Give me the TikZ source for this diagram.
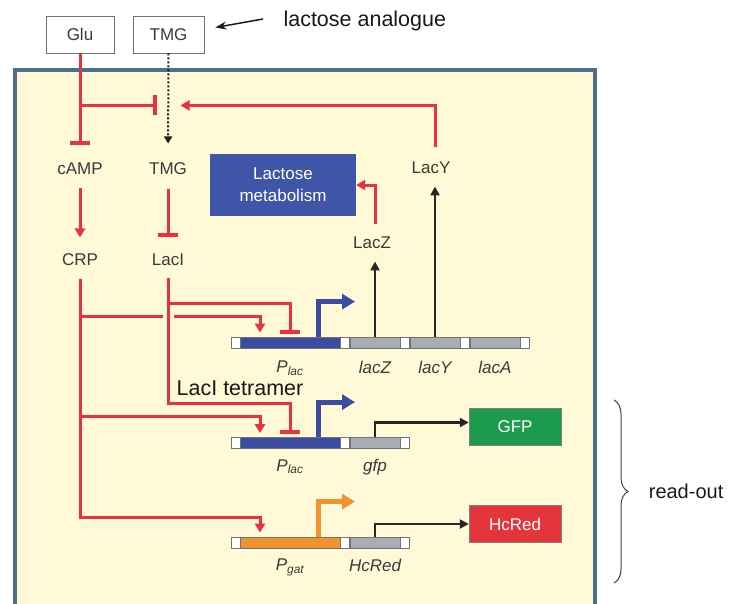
\documentclass[tikz,border=0pt]{standalone}
\usepackage{fontspec}
\setmainfont{Liberation Sans}
\usetikzlibrary{arrows.meta, positioning, calc, decorations.pathreplacing}

\definecolor{cellbg}{HTML}{FFF9D7}
\definecolor{cellrim}{HTML}{4D6F8D}
\definecolor{sigred}{HTML}{E8323C}
\definecolor{plblue}{HTML}{3B4CA2}
\definecolor{metblue}{HTML}{3F56A8}
\definecolor{gatorange}{HTML}{EF9431}
\definecolor{genegrey}{HTML}{A8ADB3}
\definecolor{gfpgreen}{HTML}{1B9B4B}
\definecolor{hcred}{HTML}{E3353B}
\definecolor{txtgrey}{HTML}{3A3A3A}

\begin{document}
\begin{tikzpicture}[x=1pt,y=-1pt,
    font=\fontsize{17}{20}\selectfont,
    every node/.style={text=txtgrey},
    redline/.style={draw=sigred,line width=3pt},
    act/.style={redline,-{Triangle[width=10pt,length=9pt]}},
    rep/.style={redline,-{Bar[width=20pt,line width=4pt]}},
    expr/.style={draw=black!85,line width=2.5pt,-{Triangle[width=9pt,length=9pt]}},
    prom/.style={line width=5pt,-{Triangle[width=15pt,length=13pt]}},
    seg/.style={draw=black!55,line width=0.8pt,minimum height=11pt,inner sep=0pt},
    gap/.style={seg,fill=white,minimum width=9pt},
    gene/.style={seg,fill=genegrey,minimum width=50pt},
    pbox/.style={seg,minimum width=100pt},
    lbl/.style={font=\fontsize{17}{20}\selectfont\itshape},
    inbox/.style={draw=black!55,line width=0.8pt,fill=white,minimum height=37pt}
  ]
  \useasboundingbox (0,0) rectangle (731,603);
  \clip (0,0) rectangle (731,603);

  % cell
  \draw [fill=cellbg,draw=cellrim,line width=4pt] (15,70) rectangle (595,625);

  \node [inbox,minimum width=68pt] at (80,34.5) (glu) {Glu};
  \node [inbox,minimum width=71pt] at (168.5,34.5) (tmgout) {TMG};
  \node [anchor=west,text=black!90,font=\fontsize{21.5}{24}\selectfont] at (280,21) (analog) {lactose analogue};
  \draw [black!90,line width=1.5pt,-{Stealth[length=11pt,width=8pt]}] ($(analog.west)+(-17,-2)$) -- ($(tmgout.east)+(11,-7)$);

  \node at (80,169) (camp) {cAMP};
  \node at (168,169) (tmg) {TMG};
  \node at (80,260) (crp) {CRP};
  \node at (168,260) (laci) {LacI};
  \node [fill=metblue,text=white,minimum width=146pt,minimum height=62pt,align=center,
         font=\fontsize{17}{22}\selectfont] at (283,185) (lacmet) {Lactose\\metabolism};
  \node at (431,168) (lacYp) {LacY};
  \node at (372,243) (lacZp) {LacZ};

  % lac operon
  \node [gap] at (235.5,342.5) (w11) {};
  \node [pbox,fill=plblue] at (290,342.5) (plac1) {};
  \node [gap] at (345,342.5) (w12) {};
  \node [gene] at (375,342.5) (lacZg) {};
  \node [gap] at (405,342.5) (w13) {};
  \node [gene] at (435,342.5) (lacYg) {};
  \node [gap] at (465,342.5) (w14) {};
  \node [gene] at (495,342.5) (lacAg) {};
  \node [gap] at (525,342.5) (w15) {};
  \node [lbl,below=9pt of plac1] (plac1lbl) {P\textsubscript{lac}};
  \node [lbl,below=9pt of lacZg] (lacZlbl) {lacZ};
  \node [lbl,below=9pt of lacYg] (lacYlbl) {lacY};
  \node [lbl,below=9pt of lacAg] (lacAlbl) {lacA};

  % reporters
  \node [gap] at (235.5,443) (w21) {};
  \node [pbox,fill=plblue] at (290,443) (plac2) {};
  \node [gap] at (345,443) (w22) {};
  \node [gene] at (375,443) (gfpg) {};
  \node [gap] at (405,443) (w23) {};
  \node [lbl,below=7pt of plac2] (plac2lbl) {P\textsubscript{lac}};
  \node [lbl,below=7pt of gfpg] (gfplbl) {gfp};

  \node [gap] at (235.5,542.5) (w31) {};
  \node [pbox,fill=gatorange] at (290,542.5) (pgat) {};
  \node [gap] at (345,542.5) (w32) {};
  \node [gene] at (375,542.5) (hcredg) {};
  \node [gap] at (405,542.5) (w33) {};
  \node [lbl,below=7pt of pgat] (pgatlbl) {P\textsubscript{gat}};
  \node [lbl,below=7pt of hcredg] (hcredlbl) {HcRed};

  \tikzstyle{outbox} = [draw=black!50,minimum width=92pt,minimum height=37pt,text=white]
  \node [outbox,fill=gfpgreen] at (515,427) (gfpbox) {GFP};
  \node [outbox,fill=hcred] at (515,524) (hcbox) {HcRed};

  \node [text=black!90,font=\fontsize{21.5}{24}\selectfont] at (240,388) (tetra) {LacI tetramer};

  % uptake and signalling
  \path (tmgout.south) ++(0,52) coordinate (uptake);
  \draw [black!90,line width=2pt,dotted,-{Triangle[width=8pt,length=7pt]},shorten >=16pt] (tmgout.south) -- (tmg.north);
  \draw [rep,shorten >=15pt] (glu.south) -- (camp.north);
  \draw [rep] (glu.south |- uptake) -- ($(uptake)+(-12,0)$);
  \draw [act,shorten <=12pt] (lacYg.north |- lacYp.north) |- ($(uptake)+(12,0)$);
  \draw [act,shorten <=10pt,shorten >=13pt] (camp.south) -- (crp.north);
  \draw [rep,shorten <=10pt,shorten >=14pt] (tmg.south) -- (laci.north);

  \coordinate (rail0) at (0,303);
  \coordinate (rail1) at (0,316);
  \coordinate (rail2) at (0,403);
  \coordinate (rail3) at (0,416);
  \coordinate (rail4) at (0,517);

  \draw [act,shorten <=9pt] (crp.south) -- (crp.south |- rail4) -| ($(pgat.north)+(-30,-4)$);
  \draw [act] (crp.south |- rail1) -| ($(plac1.north)+(-30,-4)$);
  \draw [act] (crp.south |- rail3) -| ($(plac2.north)+(-30,-4)$);
  \draw [cellbg,line width=11pt] ($(laci.south |- rail1)+(0,-5)$) -- ($(laci.south |- rail1)+(0,5)$);
  \draw [rep,shorten <=9pt] (laci.south) -- (laci.south |- rail2) -| ($(plac2.north)+(0,-3)$);
  \draw [rep] (laci.south |- rail0) -| ($(plac1.north)+(0,-3)$);

  % transcription starts
  \draw [prom,plblue] ([xshift=28pt]plac1.north) |- ++(37,-35);
  \draw [prom,plblue] ([xshift=28pt]plac2.north) |- ++(37,-35);
  \draw [prom,gatorange] ([xshift=28pt]pgat.north) |- ++(37,-35);

  % products
  \draw [expr,shorten >=9pt] (lacZg.north) -- (lacZg.north |- lacZp.south);
  \draw [expr,shorten >=9pt] (lacYg.north) -- (lacYg.north |- lacYp.south);
  \draw [act,shorten <=10pt] (lacZg.north |- lacZp.north) |- (lacmet.east);
  \draw [expr] (gfpg.north) |- ([yshift=4.5pt]gfpbox.west);
  \draw [expr] (hcredg.north) |- (hcbox.west);

  \draw [decorate,decoration={brace,amplitude=14pt},black!75,line width=1pt] (614,400) -- (614,583)
        node [midway,right=31pt,text=black!90,font=\fontsize{20}{24}\selectfont] (readout) {read-out};
\end{tikzpicture}
\end{document}
